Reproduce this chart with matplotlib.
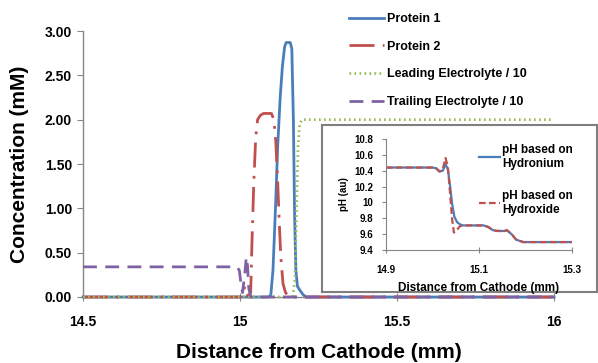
import numpy as np
import matplotlib
matplotlib.use("Agg")
import matplotlib.pyplot as plt

plt.rcParams['font.family'] = ['Liberation Sans', 'DejaVu Sans']
plt.rcParams['font.weight'] = 'bold'

# ---------------- data ----------------
series_names = ["Protein 1", "Protein 2", "Leading Electrolyte / 10", "Trailing Electrolyte / 10"]

p1_x = [14.5, 15.09, 15.098, 15.105, 15.113, 15.12, 15.128, 15.135, 15.142, 15.147,
        15.16, 15.165, 15.17, 15.174, 15.178, 15.183, 15.19, 15.2, 15.21, 16.0]
p1_y = [0, 0, 0.02, 0.3, 1.0, 1.7, 2.25, 2.6, 2.82, 2.87,
        2.87, 2.8, 2.0, 0.9, 0.3, 0.12, 0.08, 0.03, 0, 0]

p2_x = [14.5, 15.005, 15.012, 15.016, 15.02, 15.028, 15.034, 15.038, 15.044, 15.05,
        15.056, 15.065, 15.075, 15.1, 15.108, 15.114, 15.12, 15.125, 15.13, 15.137,
        15.145, 15.155, 16.0]
p2_y = [0, 0, 0.08, 0.12, 0.05, 0, 0.05, 0.6, 1.3, 1.8,
        2.0, 2.05, 2.07, 2.07, 2.0, 1.75, 1.3, 0.85, 0.45, 0.15,
        0.05, 0, 0]

le_x = [14.5, 15.168, 15.175, 15.18, 15.185, 15.19, 15.197, 16.0]
le_y = [0, 0, 0.2, 1.0, 1.7, 1.95, 2.0, 2.0]

te_x = [14.5, 14.99, 14.998, 15.003, 15.008, 15.015, 15.02, 15.024, 15.028, 15.034, 16.0]
te_y = [0.34, 0.34, 0.3, 0.15, 0.05, 0.25, 0.45, 0.35, 0.1, 0, 0]

ph_names = ["pH based on\nHydronium", "pH based on\nHydroxide"]
ph_h_x = [14.9, 15.0, 15.008, 15.015, 15.022, 15.028, 15.033, 15.038, 15.042, 15.047,
          15.053, 15.06, 15.066, 15.11, 15.12, 15.13, 15.14, 15.155, 15.16, 15.17,
          15.18, 15.195, 15.3]
ph_h_y = [10.44, 10.44, 10.43, 10.39, 10.4, 10.48, 10.42, 10.2, 9.99, 9.82,
          9.75, 9.72, 9.71, 9.71, 9.69, 9.65, 9.64, 9.64, 9.65, 9.6,
          9.53, 9.5, 9.5]
ph_o_x = [14.9, 15.0, 15.008, 15.015, 15.022, 15.028, 15.033, 15.038, 15.042, 15.046,
          15.052, 15.059, 15.066, 15.11, 15.12, 15.13, 15.14, 15.155, 15.16, 15.17,
          15.18, 15.195, 15.3]
ph_o_y = [10.44, 10.44, 10.43, 10.39, 10.42, 10.56, 10.45, 10.1, 9.8, 9.62,
          9.65, 9.7, 9.71, 9.71, 9.69, 9.65, 9.64, 9.64, 9.65, 9.6,
          9.53, 9.5, 9.5]

x_ticks = [14.5, 15, 15.5, 16]
y_ticks = [0, 0.5, 1.0, 1.5, 2.0, 2.5, 3.0]
ph_xticks = [14.9, 15.1, 15.3]
ph_yticks = [9.4, 9.6, 9.8, 10.0, 10.2, 10.4, 10.6, 10.8]

BLUE, RED, GREEN, PURPLE = '#4a7ebb', '#c0504d', '#9bbb59', '#7f62a3'
GRAY = '#868686'

###################################################

fig = plt.figure(figsize=(5.98, 3.63), dpi=100)
ax = fig.add_axes([83/598, 1-297/363, 471/598, 266/363])

ax.plot(p1_x, p1_y, color=BLUE, lw=2.0, label=series_names[0], zorder=3, clip_on=False)
ax.plot(p2_x, p2_y, color=RED, lw=2.0, dashes=(9, 3, 1, 3), label=series_names[1], zorder=3, clip_on=False)
ax.plot(le_x, le_y, color=GREEN, lw=2.0, dashes=(0.6, 1.2), label=series_names[2], zorder=3, clip_on=False)
ax.plot(te_x, te_y, color=PURPLE, lw=2.0, dashes=(5, 3), label=series_names[3], zorder=3, clip_on=False)

ax.set_xlim(14.5, 16)
ax.set_ylim(0, 3)
ax.set_xticks(x_ticks)
ax.set_xticklabels([f"{v:g}" for v in x_ticks])
ax.set_yticks(y_ticks)
ax.set_yticklabels([f"{v:.2f}" for v in y_ticks])
for s in ['top', 'right']:
    ax.spines[s].set_visible(False)
for s in ['left', 'bottom']:
    ax.spines[s].set_color(GRAY)
    ax.spines[s].set_linewidth(1.0)
ax.tick_params(axis='x', direction='inout', length=6, color=GRAY, labelsize=10, pad=10)
ax.tick_params(axis='y', direction='out', length=4, color=GRAY, labelsize=10, pad=4)
ax.set_xlabel("Distance from Cathode (mm)", fontsize=15, fontweight='bold', labelpad=10)
ax.set_ylabel("Concentration (mM)", fontsize=15, fontweight='bold', labelpad=11)

ax.legend(loc='upper left', bbox_to_anchor=(349/598, 1-13/363), bbox_transform=fig.transFigure,
          frameon=False, fontsize=9, handlelength=2.8, handletextpad=0.25,
          labelspacing=1.25, borderpad=0, borderaxespad=0)

# inset frame
frame = fig.add_axes([322/598, 1-292/363, 275/598, 167/363], zorder=1)
frame.set_xticks([])
frame.set_yticks([])
for s in frame.spines.values():
    s.set_color('#7f7f7f')
    s.set_linewidth(1.5)

ins = fig.add_axes([386/598, 1-250/363, 186/598, 111/363], zorder=2)
ins.patch.set_alpha(0)
ins.plot(ph_h_x, ph_h_y, color=BLUE, lw=1.6, label=ph_names[0])
ins.plot(ph_o_x, ph_o_y, color=RED, lw=1.6, dashes=(3, 1.5), label=ph_names[1])
ins.set_xlim(14.9, 15.3)
ins.set_ylim(9.4, 10.8)
ins.set_xticks(ph_xticks)
ins.set_xticklabels([f"{v:g}" for v in ph_xticks])
ins.set_yticks(ph_yticks)
ins.set_yticklabels([f"{v:g}" for v in ph_yticks])
for s in ['top', 'right']:
    ins.spines[s].set_visible(False)
for s in ['left', 'bottom']:
    ins.spines[s].set_color(GRAY)
ins.tick_params(axis='x', direction='inout', length=4, color=GRAY, labelsize=7, pad=9)
ins.tick_params(axis='y', direction='out', length=3, color=GRAY, labelsize=7, pad=6)
ins.set_xlabel("Distance from Cathode (mm)", fontsize=8.5, fontweight='bold', labelpad=5)
ins.set_ylabel("pH (au)", fontsize=7, fontweight='bold', labelpad=4)
ins.legend(loc='upper left', bbox_to_anchor=(479/598, 1-144/363), bbox_transform=fig.transFigure,
           frameon=False, fontsize=8.5, handlelength=1.8, handletextpad=0.15,
           labelspacing=1.7, borderpad=0, borderaxespad=0)

fig.savefig("out.png", dpi=100)
